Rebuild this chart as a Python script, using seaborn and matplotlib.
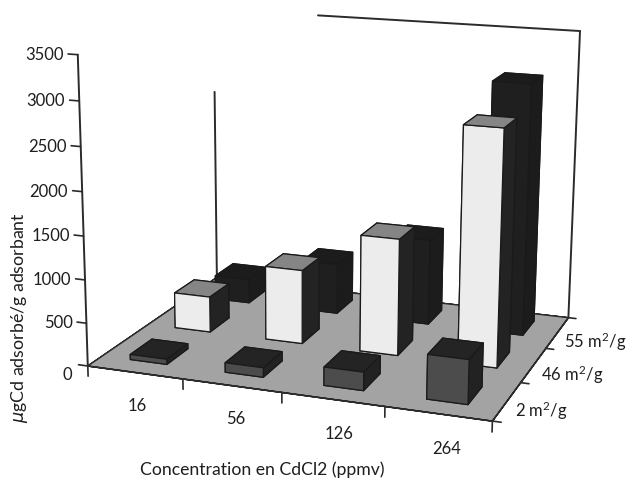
import seaborn as sns
import matplotlib.pyplot as plt
from mpl_toolkits.mplot3d import proj3d

concentrations = ['16', '56', '126', '264']
surfaces = ['2 m$^2$/g', '46 m$^2$/g', '55 m$^2$/g']
s2 = [60, 110, 210, 500]
s46 = [430, 880, 1370, 2730]
s55 = [300, 620, 1040, 3000]
series = [s2, s46, s55]
y_ticks = [0, 500, 1000, 1500, 2000, 2500, 3000, 3500]

sns.set_theme(style='white')
plt.rcParams['font.family'] = ['Lato', 'DejaVu Sans']
plt.rcParams['mathtext.default'] = 'regular'
line_col = '#2b2b2b'
text_col = '#1e1e1e'
floor_col = '#a3a3a3'

# faces: bottom, top, front, back, left, right
face_cols = [
    ['#222222', '#242424', '#4c4c4c', '#222222', '#222222', '#222222'],
    ['#222222', '#858585', '#ececec', '#222222', '#222222', '#232323'],
    ['#1c1c1c', '#1c1c1c', '#1f1f1f', '#1c1c1c', '#1c1c1c', '#1c1c1c'],
]

fig = plt.figure(figsize=(6.4, 4.84), dpi=100)
ax = fig.add_axes([0.0628, -0.0205, 0.91, 1.2033], projection='3d', computed_zorder=False)
ax.set_proj_type('persp', focal_length=0.553)
ax.view_init(elev=14.441, azim=-70.303, roll=-0.337)
ax.set_box_aspect((1.301, 1.0, 0.982))
ax.set_xlim(0, 4)
ax.set_ylim(0, 3)
ax.set_zlim(0, 3500)
ax.set_axis_off()

n_x = len(concentrations)
n_y = len(surfaces)
z_max = y_ticks[-1]


def label(x, y, z, txt, dx=0, dy=0, **kw):
    # text anchored on a projected 3D point, nudged in pixels
    px, py, _ = proj3d.proj_transform(x, y, z, ax.get_proj())
    ax.annotate(txt, (px, py), xytext=(dx, dy), textcoords='offset pixels',
                fontsize=12, color=text_col, va='center', annotation_clip=False, **kw)


# floor
ax.bar3d(0, 0, -1, n_x, n_y, 1, color=floor_col, edgecolor=line_col, linewidth=1.0, shade=False, zorder=1)

# walls
ax.plot([0, 0], [0, 0], [0, z_max], color=line_col, lw=1.4, zorder=2)
ax.plot([0, 0], [n_y, n_y], [0, 2450], color=line_col, lw=1.4, zorder=2)
ax.plot([n_x, n_x], [n_y, n_y], [0, z_max], color=line_col, lw=1.4, zorder=2)
ax.plot([1.2, n_x], [n_y, n_y], [z_max, z_max], color=line_col, lw=1.4, zorder=2)

# ticks and labels
for z in y_ticks:
    ax.plot([-0.1, 0], [0, 0], [z, z], color=line_col, lw=1.2, zorder=2)
    if z == 0:
        label(-0.2, 0, 0, '0', dx=3, dy=-12, ha='right')
    else:
        label(-0.2, 0, z, str(z), dx=5, dy=-2, ha='right')
for i in range(n_x + 1):
    ax.plot([i, i], [0, 0], [-120, 0], color=line_col, lw=1.2, zorder=2)
for i, lab in enumerate(concentrations):
    label(i + 0.5, -0.42, 0, lab, dx=23, dy=-18, ha='center')
for j in range(n_y + 1):
    ax.plot([n_x, n_x + 0.08], [j, j], [0, 0], color=line_col, lw=1.2, zorder=2)
for j, lab in enumerate(surfaces):
    label(n_x + 0.12, j + 0.5, 0, lab, dx=-5, dy=-8, ha='left')

# bars, back row first so the front ones cover them
z = 3
for j in range(n_y - 1, -1, -1):
    for i in range(n_x):
        ax.bar3d(i + 0.3, j + 0.3, 0, 0.39, 0.47, series[j][i], color=face_cols[j],
                 edgecolor='#1a1a1a', linewidth=0.9, shade=False, zorder=z)
        z += 1

fig.text(262 / 640, 1 - 470 / 484, 'Concentration en CdCl2 (ppmv)', ha='center', va='center',
         fontsize=12.7, color=text_col)
fig.text(20 / 640, 1 - 318 / 484, r'$\mathit{\mu}$gCd adsorbé/g adsorbant', rotation=90, ha='center',
         va='center', fontsize=12.8, color=text_col)
fig.savefig('out.png', dpi=100)
